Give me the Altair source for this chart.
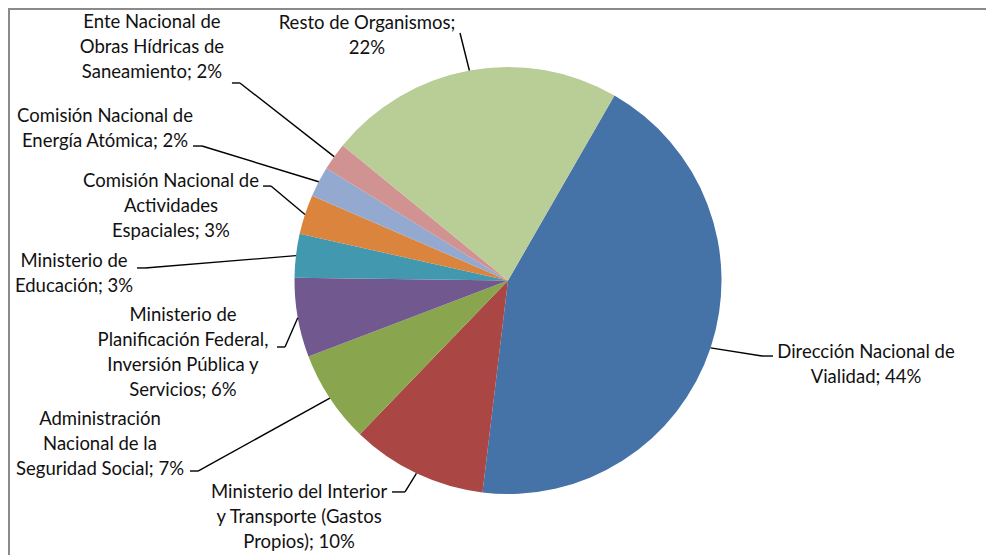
import math
import altair as alt
import pandas as pd

# ---- data -------------------------------------------------------------
names = [
    "Dirección Nacional de Vialidad",
    "Ministerio del Interior y Transporte (Gastos Propios)",
    "Administración Nacional de la Seguridad Social",
    "Ministerio de Planificación Federal, Inversión Pública y Servicios",
    "Ministerio de Educación",
    "Comisión Nacional de Actividades Espaciales",
    "Comisión Nacional de Energía Atómica",
    "Ente Nacional de Obras Hídricas de Saneamiento",
    "Resto de Organismos",
]
labels = [
    "Dirección Nacional de\nVialidad; 44%",
    "Ministerio del Interior\ny Transporte (Gastos\nPropios); 10%",
    "Administración\nNacional de la\nSeguridad Social; 7%",
    "Ministerio de\nPlanificación Federal,\nInversión Pública y\nServicios; 6%",
    "Ministerio de\nEducación; 3%",
    "Comisión Nacional de\nActividades\nEspaciales; 3%",
    "Comisión Nacional de\nEnergía Atómica; 2%",
    "Ente Nacional de\nObras Hídricas de\nSaneamiento; 2%",
    "Resto de Organismos;\n22%",
]
values = [43.6, 10.3, 7.0, 6.0, 3.3, 3.0, 2.3, 2.1, 22.4]

# ---- style / layout ---------------------------------------------------
colors = ["#4572A7", "#AA4643", "#89A54E", "#71588F", "#4198AF",
          "#DB843D", "#93A9CF", "#D19392", "#B9CD96"]
# label block centre offset from the slice's outer mid point (pixels)
label_dx = [155.4, -117.4, -229.9, -114.8, -221.9, -134.0, -213.7, -182.2, -102.4]
label_dy = [16.7, 43.6, 45.3, 35.2, 18.3, -8.4, -53.7, -109.1, -35.0]
# leader line end (near the text) offset from the slice's outer mid point
lead_dx = [62.4, -24.4, -139.9, -20.8, -158.9, -42.0, -125.7, -102.2, -9.4]
lead_dy = [8.2, 18.6, 72.8, 29.2, 12.3, -28.4, -35.7, -73.6, -37.5]
stub = [-11, 13, 8, 8, 8, 8, 9, 8, 0]

W, H = 978, 547
CX, CY, R = 500, 272.5, 213.5
START = math.radians(29.9)
FONT = "Lato"
LINE_H = 25

df = pd.DataFrame({
    "name": names, "label": labels, "value": values,
    "order": list(range(len(names))),
    "label_dx": label_dx, "label_dy": label_dy,
    "lead_dx": lead_dx, "lead_dy": lead_dy, "stub": stub,
})

total = sum(values)

base = alt.Chart(df).transform_joinaggregate(
    total="sum(value)"
).transform_window(
    cum="sum(value)", sort=[alt.SortField("order")]
).transform_calculate(
    mid=f"{START} + 2*PI*(datum.cum - datum.value/2)/datum.total",
    nlines="split(datum.label, '\\n').length",
).transform_calculate(
    sx=f"{CX} + {R}*sin(datum.mid)",
    sy=f"{CY} - {R}*cos(datum.mid)",
).transform_calculate(
    px="datum.sx + datum.lead_dx",
    py="datum.sy + datum.lead_dy",
    lx="datum.sx + datum.label_dx",
    ly=f"datum.sy + datum.label_dy - (datum.nlines - 1) * {LINE_H} / 2",
).transform_calculate(
    ex="datum.px + datum.stub",
    ey="datum.py",
)

pie = alt.Chart(df).mark_arc(outerRadius=R).encode(
    theta=alt.Theta("value:Q", stack=True,
                    scale=alt.Scale(range=[START, START + 2 * math.pi],
                                    domain=[0, total], nice=False)),
    order=alt.Order("order:Q"),
    color=alt.Color("name:N", scale=alt.Scale(domain=names, range=colors),
                    legend=None),
    x=alt.value(CX),
    y=alt.value(CY),
)

lead1 = base.mark_rule(color="black", strokeWidth=1.4).encode(
    x=alt.X("sx:Q", scale=None), y=alt.Y("sy:Q", scale=None),
    x2="ex:Q", y2="ey:Q",
)
lead2 = base.mark_rule(color="black", strokeWidth=1.4).encode(
    x=alt.X("ex:Q", scale=None), y=alt.Y("ey:Q", scale=None),
    x2="px:Q", y2="py:Q",
)

text = base.mark_text(
    font=FONT, fontSize=18.5, lineBreak="\n", lineHeight=LINE_H,
    align="center", baseline="middle", color="#111111",
).encode(
    x=alt.X("lx:Q", scale=None), y=alt.Y("ly:Q", scale=None),
    text="label:N",
)

frame_df = pd.DataFrame({"k": [0]})
frame_left = alt.Chart(frame_df).mark_rule(color="#8a8a8a", strokeWidth=2).encode(
    x=alt.value(1), y=alt.value(0), y2=alt.value(H)
)
frame_top = alt.Chart(frame_df).mark_rule(color="#8a8a8a", strokeWidth=2).encode(
    x=alt.value(0), x2=alt.value(W), y=alt.value(1)
)

chart = alt.layer(pie, lead1, lead2, text, frame_left, frame_top).properties(
    width=W, height=H, padding=0, autosize=alt.AutoSizeParams(type="none"),
).configure_view(stroke=None)

chart.save("out.html", embed_options={"renderer": "svg", "actions": False})
